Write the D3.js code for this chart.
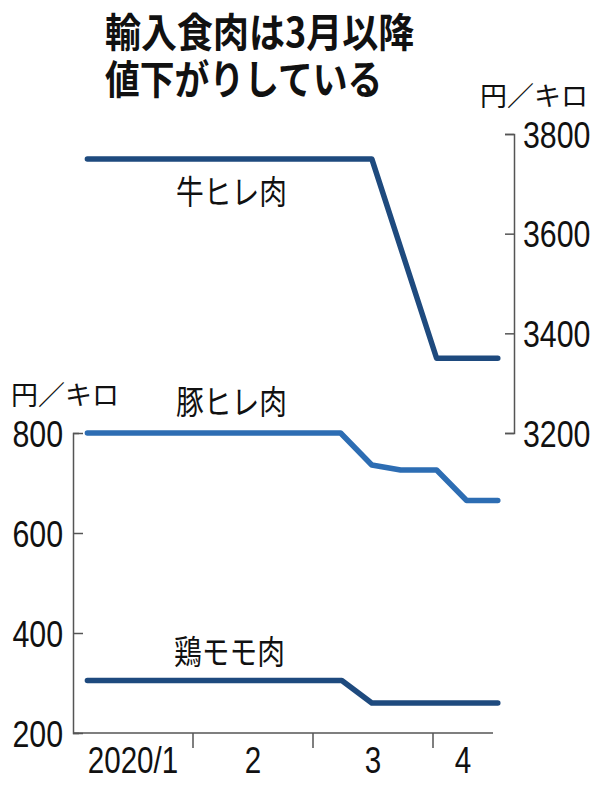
<!DOCTYPE html>
<html><head><meta charset="utf-8">
<script src="https://cdn.jsdelivr.net/npm/d3@7"></script>
<style>
html,body{margin:0;padding:0;background:#fff;}
svg{display:block;}
.num{font-family:"Liberation Sans","Arial",sans-serif;}
.jp{font-family:"Noto Sans CJK JP","Noto Sans",sans-serif;}
</style></head>
<body>
<script>
// ---- data ----
const title = ["輸入食肉は3月以降", "値下がりしている"];
const unitLabel = "円／キロ";
const monthLabels = ["2020/1", "2", "3", "4"];
const monthLabelPos = [0.5, 1.5, 2.5, 3.25];
const monthTicks = [1, 2, 3];
const leftTicks = [200, 400, 600, 800];
const rightTicks = [3200, 3400, 3600, 3800];
const seriesNames = ["牛ヒレ肉", "豚ヒレ肉", "鶏モモ肉"];
// x in months since 2020/1/1
const beefX = [0.12, 2.49, 3.03, 3.54];
const beefY = [3750, 3750, 3350, 3350];
const porkX = [0.12, 2.23, 2.49, 2.73, 3.03, 3.28, 3.54];
const porkY = [800, 800, 736, 726, 726, 665, 665];
const chickenX = [0.12, 2.24, 2.49, 3.54];
const chickenY = [305, 305, 260, 260];

const W = 609, H = 787;
const svg = d3.select("body").append("svg").attr("width", W).attr("height", H);

const x = d3.scaleLinear().domain([0, 3.5]).range([73, 493]);
const yL = d3.scaleLinear().domain([200, 800]).range([733, 433]);
const yR = d3.scaleLinear().domain([3200, 3800]).range([433, 134]);

const axisColor = "#555";
const dark = "#1e4a7e";
const light = "#2d6db3";

function squeeze(sel, f) {
  sel.each(function () {
    const w = this.getComputedTextLength();
    d3.select(this).attr("textLength", w * f).attr("lengthAdjust", "spacingAndGlyphs");
  });
}

// title (one text, two lines)
const t = svg.append("text").attr("class", "jp").attr("x", 105).attr("y", 47)
  .attr("font-size", 40).attr("font-weight", "bold").attr("fill", "#111");
const tsp = t.selectAll("tspan").data(title).join("tspan")
  .attr("x", 105).attr("dy", (d, i) => i === 0 ? 0 : 47).text(d => d);
tsp.each(function (d, i) {
  const w = this.getComputedTextLength();
  d3.select(this).attr("textLength", w * (i === 0 ? 0.9 : 0.87)).attr("lengthAdjust", "spacingAndGlyphs");
});

// unit labels
svg.append("text").attr("class", "jp").attr("x", 480).attr("y", 106)
  .attr("font-size", 27).attr("fill", "#111").text(unitLabel);
svg.append("text").attr("class", "jp").attr("x", 11).attr("y", 405)
  .attr("font-size", 27).attr("fill", "#111").text(unitLabel);

// right axis
const gR = svg.append("g").attr("transform", "translate(514,0)")
  .call(d3.axisLeft(yR).tickValues(rightTicks).tickSize(9).tickSizeOuter(9).tickFormat(d3.format("d")));
gR.selectAll("path,line").attr("stroke", axisColor).attr("stroke-width", 1.5);
gR.selectAll("text").attr("class", "num").attr("x", 9).attr("text-anchor", "start")
  .attr("font-size", 37).attr("fill", "#111").attr("dy", "0.36em");
squeeze(gR.selectAll("text"), 0.82);

// left axis
const gL = svg.append("g").attr("transform", "translate(73,0)")
  .call(d3.axisRight(yL).tickValues(leftTicks).tickSize(10).tickSizeOuter(6).tickFormat(d3.format("d")));
gL.selectAll("path,line").attr("stroke", axisColor).attr("stroke-width", 1.5);
gL.selectAll("text").attr("class", "num").attr("x", -10).attr("text-anchor", "end")
  .attr("font-size", 37).attr("fill", "#111").attr("dy", "0.36em");
squeeze(gL.selectAll("text"), 0.82);

// x axis
const gX = svg.append("g").attr("transform", "translate(0,733)");
gX.append("line").attr("x1", x(0)).attr("x2", x(3.5)).attr("stroke", axisColor).attr("stroke-width", 1.5);
gX.selectAll("line.t").data(monthTicks).join("line").attr("class", "t")
  .attr("x1", d => x(d)).attr("x2", d => x(d)).attr("y1", 0).attr("y2", 15)
  .attr("stroke", axisColor).attr("stroke-width", 1.5);
gX.selectAll("text").data(monthLabels).join("text").attr("class", "num")
  .attr("x", (d, i) => x(monthLabelPos[i])).attr("y", 40).attr("text-anchor", "middle")
  .attr("font-size", 37).attr("fill", "#111").text(d => d);
squeeze(gX.selectAll("text"), 0.8);

// lines
function drawLine(xs, ys, yScale, color) {
  const pts = xs.map((v, i) => [x(v), yScale(ys[i])]);
  svg.append("path").attr("d", d3.line()(pts)).attr("fill", "none")
    .attr("stroke", color).attr("stroke-width", 5.5)
    .attr("stroke-linecap", "round").attr("stroke-linejoin", "round");
}
drawLine(beefX, beefY, yR, dark);
drawLine(porkX, porkY, yL, light);
drawLine(chickenX, chickenY, yL, dark);

// series labels
const labelPos = [[176, 204], [176, 414], [174, 664]];
seriesNames.forEach((n, i) => {
  svg.append("text").attr("class", "jp series").attr("x", labelPos[i][0]).attr("y", labelPos[i][1])
    .attr("font-size", 33).attr("fill", "#111").text(n);
});
squeeze(svg.selectAll("text.series"), 0.84);
</script>
</body></html>
